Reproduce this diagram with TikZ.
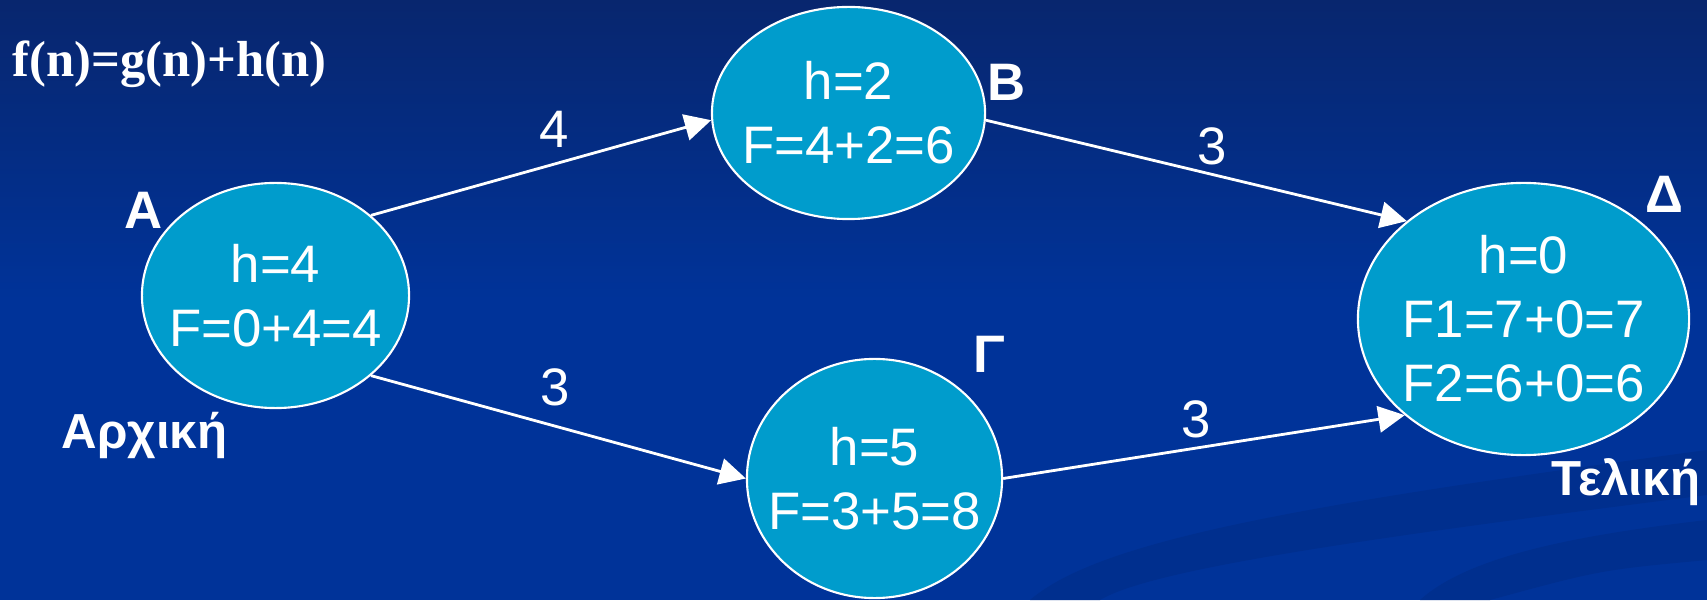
\documentclass[tikz,border=0pt]{standalone}
\usepackage{fontspec}
\setmainfont{Liberation Sans}
\newfontfamily\formulafont{Liberation Serif}
\usepackage{xcolor}
\usetikzlibrary{arrows.meta, positioning, shapes.geometric}
\definecolor{bgtop}{RGB}{8,38,110}
\definecolor{bgbot}{RGB}{0,51,153}
\definecolor{swoosh}{RGB}{0,47,142}
\definecolor{nodeblue}{RGB}{0,156,204}

\begin{document}
\begin{tikzpicture}[x=0.01cm, y=0.01cm,
    state/.style={ellipse, draw=white, line width=0.6pt, fill=nodeblue, text=white, align=center, inner sep=-5pt, font=\fontsize{15}{18.2}\selectfont},
    tag/.style={text=white, inner sep=0pt, font=\fontsize{15}{18}\selectfont\bfseries},
    edge/.style={-{Triangle[length=7.5pt, width=7.5pt]}, white, line width=0.8pt},
    cost/.style={text=white, inner sep=0pt, font=\fontsize{15}{18}\selectfont}]
    % Background
    \useasboundingbox (0,0) rectangle (1707,600);
    \fill[bgbot] (0,0) rectangle (1707,600);
    \shade[top color=bgtop, bottom color=bgbot] (0,300) rectangle (1707,600);
    \fill[swoosh] (1030,0) .. controls (1100,60) and (1300,95) .. (1707,150) -- (1707,105) .. controls (1350,60) and (1150,30) .. (1100,0) -- cycle;
    \fill[swoosh] (1420,0) .. controls (1470,45) and (1580,65) .. (1707,80) -- (1707,40) .. controls (1600,30) .. (1490,0) -- cycle;

    % Formula
    \node[text=white, inner sep=0pt, anchor=base west, font=\formulafont\fontsize{14.4}{16}\selectfont\bfseries] (formula) at (12,523) {f(n)=g(n)+h(n)};

    % States
    \node[state, minimum width=2.67cm, minimum height=2.25cm] (A) at (275.5,304.5) {h=4\\F=0+4=4};
    \node[state, minimum width=2.73cm, minimum height=2.12cm] (B) at (848.5,487) {h=2\\F=4+2=6};
    \node[state, minimum width=2.55cm, minimum height=2.39cm] (G) at (874.5,121.5) {h=5\\F=3+5=8};
    \node[state, minimum width=3.31cm, minimum height=2.72cm] (D) at (1523.5,281) {h=0\\F1=7+0=7\\F2=6+0=6};

    % Names
    \node[tag] (nameA) at (143.5,389.5) {Α};
    \node[tag] (nameB) at (1007,517.5) {Β};
    \node[tag] (nameG) at (989,246) {Γ};
    \node[tag] (nameD) at (1664,406) {Δ};
    \node[tag, anchor=base west, font=\fontsize{14}{16}\selectfont\bfseries] (start) at (61,152) {Αρχική};
    \node[tag, anchor=base west, font=\fontsize{14}{16}\selectfont\bfseries] (goal) at (1551,105) {Τελική};

    % Edges
    \draw[edge] (A.40) -- (B.183) node[cost, midway, xshift=0.135cm, yshift=0.38cm] {4};
    \draw[edge] (A.-40) -- (G.180) node[cost, midway, xshift=-0.035cm, yshift=0.4cm] {3};
    \draw[edge] (B.-3) -- (D.140) node[cost, midway, xshift=0.155cm, yshift=0.245cm] {3};
    \draw[edge] (G.0) -- (D.219) node[cost, midway, xshift=-0.075cm, yshift=0.275cm] {3};
\end{tikzpicture}
\end{document}
